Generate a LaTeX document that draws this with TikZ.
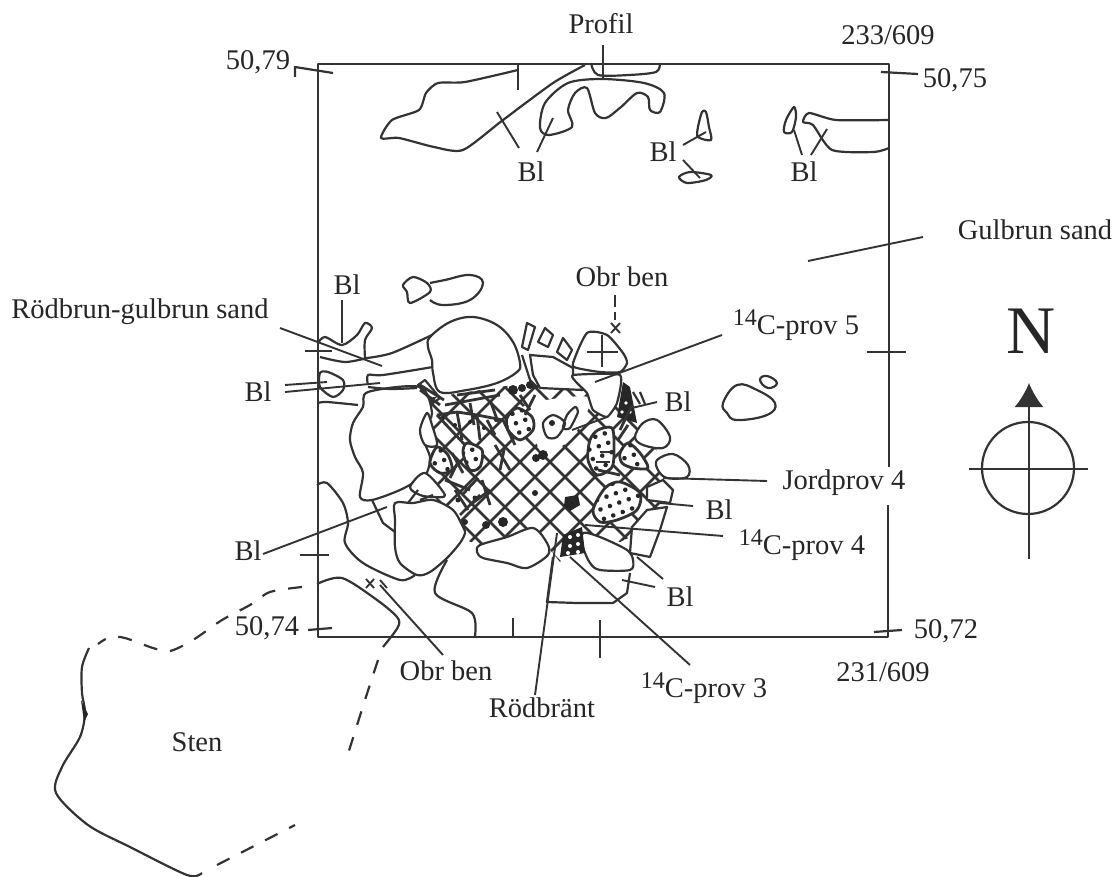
\documentclass[tikz,border=0pt]{standalone}
\usepackage{fontspec}
\setmainfont{Liberation Serif}
\usetikzlibrary{arrows.meta,patterns.meta,positioning}
\newcommand{\isotopemark}{\raisebox{.33em}{\fontsize{24}{24}\selectfont 14}}

\begin{document}
\begin{tikzpicture}[
        x=1pt,y=-1pt,
        line join=round,
        inkcolor/.style={draw=black!80},
        maptext/.style={font=\fontsize{28.5}{31}\selectfont,text=black!85,inner sep=1pt},
        outline/.style={inkcolor,line width=2.2pt},
        web/.style={inkcolor,line width=2.8pt},
        stone/.style={outline,fill=white},
        leader/.style={inkcolor,line width=1.9pt},
        tickmark/.style={inkcolor,line width=2.2pt},
        brokenline/.style={outline,dash pattern=on 14pt off 13pt},
        dotted patch/.style={web,fill=white,postaction={pattern={Dots[distance=10pt,radius=2.3pt,angle=20]},pattern color=black!85}}
      ]
      \useasboundingbox (0,0) rectangle (1117,877);

      % cross hatched hearth
      \begin{scope}
        \clip (428,398) -- (520,384) -- (590,388) -- (628,400) -- (662,460) -- (672,490) -- (662,522)
          -- (620,542) -- (585,532) -- (560,562) -- (532,528) -- (480,545) -- (465,540) -- (445,512) -- (430,490) -- cycle;
        \foreach \c in {832,862,...,1222}
          \draw[web] (\c-300,300) -- (\c-700,700);
        \foreach \c in {-92,-62,...,268}
          \draw[web] (300+\c,300) -- (700+\c,700);
      \end{scope}
      \fill[white] plot[smooth cycle] coordinates {(522,408) (560,398) (590,398) (583,420) (570,440) (555,450) (545,458) (535,440)};

      % stones
      \draw[stone] plot[smooth cycle,tension=0.6] coordinates {(430,337) (450,322) (473,317) (497,325) (513,342) (520,363) (517,372) (497,383) (467,390) (440,392) (433,373) (432,360) (428,347)};
      \draw[stone] plot[smooth cycle,tension=0.5] coordinates {(368,392) (363,407) (353,423) (350,440) (355,457) (363,473) (360,497) (372,500) (400,490) (423,477) (428,470) (430,457) (425,443) (425,427) (432,413) (420,387)};
      \draw[stone] plot[smooth cycle,tension=0.5] coordinates {(427,413) (420,430) (425,445) (437,445) (432,425)};
      \draw[stone] plot[smooth cycle,tension=0.5] coordinates {(395,503) (413,503) (433,500) (453,510) (463,527) (465,533) (460,543) (447,558) (430,572) (417,575) (400,563) (395,547) (395,520)};
      \draw[stone] plot[smooth cycle,tension=0.5] coordinates {(480,545) (507,537) (533,528) (547,543) (548,555) (527,568) (507,563) (483,558) (477,552)};
      \draw[stone] plot[smooth cycle,tension=0.5] coordinates {(583,533) (600,537) (627,550) (633,560) (630,570) (600,570) (590,563) (583,547)};
      \draw[stone] (530,355) -- (553,357) -- (573,368) -- (573,375) -- (583,390) -- (540,388) -- (533,375) -- cycle;
      \draw[stone] plot[smooth cycle,tension=0.4] coordinates {(577,368) (573,363) (587,333) (607,335) (623,353) (627,363) (620,372) (600,372)};
      \draw[stone] plot[smooth cycle,tension=0.3] coordinates {(573,375) (620,375) (617,403) (607,417) (593,410) (587,393) (577,383)};
      \draw[stone] (522,347) -- (527,323) -- (535,327) -- (528,350) -- cycle;
      \draw[stone] (538,342) -- (545,328) -- (553,335) -- (548,347) -- cycle;
      \draw[stone] (557,352) -- (563,338) -- (572,350) -- (567,360) -- cycle;
      \draw[stone] plot[smooth cycle,tension=0.6] coordinates {(635,437) (643,423) (657,420) (670,437) (663,448) (643,445)};
      \draw[stone] plot[smooth cycle,tension=0.6] coordinates {(657,460) (673,454) (688,465) (687,477) (667,478) (658,470)};
      \draw[stone] (647,510) -- (667,507) -- (660,530) -- (650,557) -- (630,553) -- (632,527) -- cycle;
      \draw[stone] (647,487) -- (663,480) -- (673,490) -- (670,503) -- (647,500) -- cycle;
      \draw[stone] plot[smooth cycle,tension=0.5] coordinates {(410,487) (425,473) (445,495) (433,497) (420,495)};

      % dotted patches
      \draw[dotted patch] plot[smooth cycle] coordinates {(507,418) (517,408) (532,417) (533,430) (520,440) (508,430)};
      \draw[dotted patch] plot[smooth cycle] coordinates {(590,440) (598,430) (612,428) (614,447) (612,467) (597,475) (588,460)};
      \draw[dotted patch] plot[smooth cycle] coordinates {(620,453) (628,443) (640,453) (648,468) (633,468) (622,463)};
      \draw[dotted patch] plot[smooth cycle] coordinates {(593,510) (605,488) (620,482) (640,493) (637,510) (617,520) (600,522)};
      \draw[dotted patch] plot[smooth cycle] coordinates {(430,463) (437,447) (448,455) (452,470) (440,473)};
      \draw[dotted patch] plot[smooth cycle] coordinates {(467,443) (482,450) (480,467) (470,470) (463,453)};

      % burnt bits
      \fill[black!85] (563,535) -- (582,527) -- (585,553) -- (560,557) -- cycle;
      \foreach \dx/\dy in {570/537,578/535,570/546,578/544,568/553,578/552}
        \fill[white] (\dx,\dy) circle (2);
      \fill[black!85] (623,382) -- (630,387) -- (637,423) -- (617,417) -- cycle;
      \foreach \dx/\dy in {626/403,630/412,622/412}
        \fill[white] (\dx,\dy) circle (1.8);
      \fill[black!85] (565,497) -- (578,495) -- (580,505) -- (570,511) -- (564,506) -- cycle;
      \foreach \bx/\by/\br in {513/390/5,522/388/4,530/385/4,543/455/5,536/458/4,503/522/5,486/525/4,535/493/3,552/423/3,465/522/3,442/418/2,455/425/2,470/422/2,484/428/2,496/420/2,458/500/2.5,475/498/2.5}
        \fill[black!85] (\bx,\by) circle (\br);
      \foreach \sa/\sb/\sc/\sd in {420/390/440/405,420/385/444/400,457/395/495/390,445/405/500/395,437/415/457/412,457/412/477/415,477/415/503/420,437/415/465/445,457/412/462/440,477/415/480/440,487/420/495/435,503/420/515/445,470/403/474/425,490/400/498/422,452/453/463/473,458/462/450/478,445/480/470/490,462/495/478/478,482/480/490/505,470/505/490/490,455/490/468/510,480/495/460/515,495/445/510/470,505/445/500/470,520/395/530/410,535/395/525/415,618/440/628/425,632/405/620/430,598/470/620/475,600/452/612/452,596/462/610/462}
        \draw[web] (\sa,\sb) -- (\sc,\sd);
      \draw[outline] plot[smooth cycle] coordinates {(543,423) (553,415) (565,423) (557,437) (547,437)};
      \draw[outline] plot[smooth cycle,tension=0.4] coordinates {(567,415) (575,407) (578,412) (570,428) (563,428)};
      \draw[outline] (633,392) -- (640,404) (640,392) -- (645,404);
      \draw[outline] (522,355) -- (530,380) -- (538,388);
      \draw[outline] (372,500) -- (383,523) -- (395,532);
      \draw[outline] (408,503) -- (418,490) (420,500) -- (433,495);
      \draw[outline] (418,385) -- (425,380) -- (440,398) -- (433,403) -- cycle;

      % soil edges
      \draw[outline] plot[smooth] coordinates {(367,358) (392,353) (432,335)};
      \draw[outline] plot[smooth,tension=0.5] coordinates {(318,343) (325,337) (342,345) (357,335) (365,323) (372,328) (365,340) (365,358)};
      \draw[outline] plot[smooth] coordinates {(320,357) (345,362) (367,358)};
      \draw[outline] plot[smooth] coordinates {(368,385) (368,375) (383,375) (433,367)};
      \draw[outline] plot[smooth] coordinates {(368,387) (390,389) (417,388)};
      \draw[outline] plot[smooth] coordinates {(318,403) (327,402) (358,405)};
      \draw[outline] plot[smooth cycle] coordinates {(320,373) (328,372) (343,380) (343,390) (333,397) (320,387)};
      \draw[outline] plot[smooth,tension=0.5] coordinates {(317,485) (327,483) (343,503) (348,523) (345,543) (363,563) (400,580) (415,575)};
      \draw[outline] plot[smooth,tension=0.5] coordinates {(447,560) (435,593) (472,613) (475,636)};
      \draw[outline] (553,557) -- (547,602) -- (577,603) -- (613,603) -- (627,593) -- (630,573);
      \draw[outline] plot[smooth cycle,tension=0.5] coordinates {(403,285) (413,277) (427,283) (430,292) (410,303) (407,292)};
      \draw[outline] plot[smooth,tension=0.7] coordinates {(430,283) (445,280) (470,275) (483,283) (470,300) (443,305) (430,300)};
      \draw[outline] plot[smooth cycle,tension=0.7] coordinates {(723,403) (737,385) (757,390) (775,403) (767,415) (737,420) (727,413)};
      \draw[outline] plot[smooth cycle,tension=0.8] coordinates {(760,380) (767,376) (777,383) (768,388)};

      % upper edges
      \draw[outline] plot[smooth,tension=0.4] coordinates {(518,70) (465,82) (438,83) (426,93) (419,110) (392,120) (381,138) (399,138) (434,147) (463,150) (503,120) (553,83) (585,65)};
      \draw[outline] plot[smooth,tension=0.5] coordinates {(591,63) (598,75) (629,75) (656,72) (660,63)};
      \draw[outline] plot[smooth cycle,tension=0.5] coordinates {(540,128) (545,103) (568,83) (602,79) (644,83) (664,93) (660,112) (650,110) (648,97) (637,93) (621,107) (606,118) (595,113) (587,88) (575,93) (568,110) (572,127) (549,135)};
      \draw[outline] plot[smooth cycle] coordinates {(702,112) (698,127) (698,137) (711,140) (709,127) (706,112)};
      \draw[outline] plot[smooth cycle] coordinates {(679,177) (690,172) (711,175) (706,180) (687,183)};
      \draw[outline] plot[smooth cycle] coordinates {(794,107) (786,120) (784,132) (792,132) (796,117)};
      \draw[outline] plot[smooth,tension=0.4] coordinates {(889,120) (836,120) (809,113) (803,122) (813,125) (832,150) (874,152) (889,148)};

      % frame and ticks
      \coordinate (frameNW) at (318,64);
      \coordinate (frameNE) at (889,64);
      \coordinate (frameGapN) at (889,467);
      \coordinate (frameGapS) at (888,505);
      \coordinate (frameSE) at (888,637);
      \coordinate (frameSW) at (318,637);
      \draw[tickmark,line width=2.6pt] (frameGapN) -- (frameNE) -- (frameNW) -- (frameSW) -- (frameSE) -- (frameGapS);
      \draw[tickmark] (295,77) -- (295,67) -- (333,73);
      \draw[tickmark] (881,72) -- (918,74);
      \draw[tickmark] (305,351) -- (332,351);
      \draw[tickmark] (867,352) -- (906,352);
      \draw[tickmark] (300,555) -- (329,555);
      \draw[tickmark] (308,630) -- (332,628);
      \draw[tickmark] (874,632) -- (902,630);
      \draw[tickmark] (518,64) -- (518,90);
      \draw[tickmark] (603,45) -- (603,80);
      \draw[tickmark] (513,618) -- (513,637);
      \draw[tickmark] (600,620) -- (600,658);
      \draw[tickmark] (587,352) -- (618,352);
      \draw[tickmark] (602,335) -- (602,367);

      % texts
      \node[maptext] (profil) at (601,24) {Profil};
      \node[maptext] (coordNE) at (888,35) {233/609};
      \node[maptext] (val79) at (258,62) {50,79};
      \node[maptext] (val75) at (955,80) {50,75};
      \node[maptext] (blTopA) at (531,172) {Bl};
      \node[maptext] (blTopB) at (663,152) {Bl};
      \node[maptext] (blTopC) at (804,172) {Bl};
      \node[maptext] (gulbrun) at (1035,230) {Gulbrun sand};
      \node[maptext] (blWest) at (347,285) {Bl};
      \node[maptext] (rodbrun) at (140,312) {Rödbrun-gulbrun sand};
      \node[maptext] (obrTop) at (622,277) {Obr ben};
      \node[maptext] (provFive) at (796,325) {\isotopemark C-prov 5};
      \node[maptext] (blMid) at (258,392) {Bl};
      \node[maptext] (blEast) at (678,402) {Bl};
      \node[maptext] (jordprov) at (844,483) {Jordprov 4};
      \node[maptext] (blNear) at (719,510) {Bl};
      \node[maptext] (provFour) at (802,545) {\isotopemark C-prov 4};
      \node[maptext] (blLow) at (248,551) {Bl};
      \node[maptext] (blSouth) at (680,597) {Bl};
      \node[maptext] (val74) at (267,628) {50,74};
      \node[maptext] (val72) at (946,631) {50,72};
      \node[maptext] (obrLow) at (446,671) {Obr ben};
      \node[maptext] (coordSE) at (883,672) {231/609};
      \node[maptext] (provThree) at (704,688) {\isotopemark C-prov 3};
      \node[maptext] (rodbrant) at (542,708) {Rödbränt};
      \node[maptext] (sten) at (197,742) {Sten};
      \node[font=\fontsize{68}{72}\selectfont,text=black!85,inner sep=0pt] (north) at (1031,331) {N};

      % leaders
      \coordinate (gulbrunEnd) at (808,261);
      \coordinate (gulbrunStart) at (923,237);
      \draw[leader] (gulbrunStart) -- (gulbrunEnd);
      \draw[leader] (519,148) coordinate (blTopAStart) -- (497,112);
      \draw[leader] (537,152) coordinate (blTopBStart) -- (553,118);
      \draw[leader] (683,145) coordinate (blOvalA) -- (706,132);
      \draw[leader] (683,160) coordinate (blOvalB) -- (700,178);
      \draw[leader] (802,155) coordinate (blOvalC) -- (794,130);
      \draw[leader] (811,155) coordinate (blOvalD) -- (827,129);
      \draw[leader] (342,300) coordinate (blWestStart) -- (342,343);
      \draw[leader] (280,328) coordinate (rodbrunStart) -- (382,366);
      \draw[leader,dashed,dash pattern=on 12pt off 5pt] (615,295) coordinate (obrTopStart) -- (615,320);
      \draw[leader] (611,323) -- (620,333) (620,323) -- (611,333);
      \draw[leader] (722,335) coordinate (provFiveStart) -- (595,382);
      \draw[leader] (285,385) coordinate (blMidA) -- (327,382);
      \draw[leader] (285,392) coordinate (blMidB) -- (380,383);
      \draw[leader] (657,402) coordinate (blEastStart) -- (632,408);
      \draw[leader] (572,430) coordinate (blEastInner) -- (607,417);
      \draw[leader] (767,481) coordinate (jordprovStart) -- (663,478);
      \draw[leader] (693,506) coordinate (blNearStart) -- (660,503);
      \draw[leader] (723,536) coordinate (provFourStart) -- (585,525);
      \draw[leader] (263,554) coordinate (blLowStart) -- (387,507);
      \draw[leader] (655,587) coordinate (blSouthA) -- (622,580);
      \draw[leader] (663,579) coordinate (blSouthB) -- (637,557);
      \draw[leader] (690,665) coordinate (provThreeStart) -- (570,557);
      \draw[leader] (535,695) coordinate (rodbrantStart) -- (557,533);
      \draw[leader] (443,655) coordinate (obrLowStart) -- (380,585);
      \draw[leader] (366,579) -- (374,588) (374,579) -- (366,588);
      \draw[leader] (380,580) -- (387,588);

      % sten outline
      \draw[outline] plot[smooth,tension=0.5] coordinates {(317,584) (342,578) (377,600) (397,617) (398,627) (383,647)};
      \draw[brokenline] plot[smooth,tension=0.5] coordinates {(378,660) (365,700) (347,757)};
      \draw[brokenline] plot[smooth,tension=0.5] coordinates {(302,587) (270,592) (250,605) (222,620) (193,640) (170,651) (153,648) (125,638) (110,637) (98,644)};
      \draw[outline] plot[smooth,tension=0.5] coordinates {(89,648) (82,667) (82,693) (85,713) (80,737) (62,767) (56,793) (88,825) (130,847) (187,875) (202,873)};
      \draw[brokenline] (217,865) -- (295,825);
      \fill[black!85] (81,700) -- (88,714) -- (84,722) -- cycle;

      % north sign
      \node[circle,draw=black!80,line width=2.2pt,minimum size=92pt,inner sep=0pt] (compass) at (1028,468) {};
      \coordinate (compassTop) at (1029,383);
      \coordinate (compassBottom) at (1029,559);
      \coordinate (compassWest) at (969,469);
      \coordinate (compassEast) at (1088,469);
      \draw[outline,-{Latex[length=24pt,width=29pt]}] (compassBottom) -- (compassTop);
      \draw[outline] (compassWest) -- (compassEast);
\end{tikzpicture}
\end{document}
